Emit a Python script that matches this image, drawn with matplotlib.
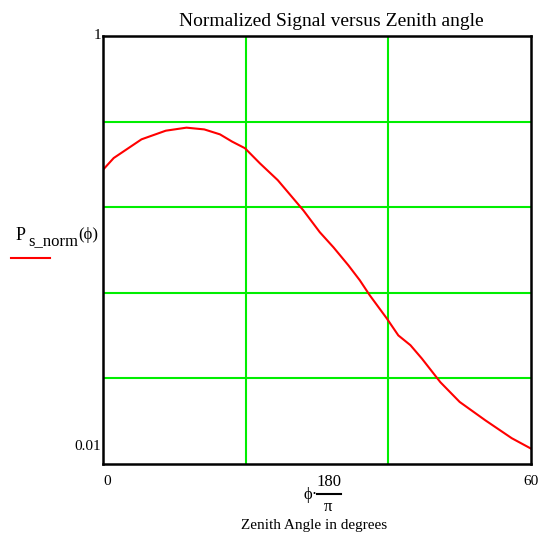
import numpy as np
import matplotlib.pyplot as plt

plt.rcParams['font.family'] = ['Liberation Serif', 'DejaVu Serif']

# zenith angle (deg) and normalized signal
angle = [0, 1.5, 5.4, 8.8, 11.7, 14.2, 16.4, 18.1, 19.9, 22.0, 24.5, 28.1, 30.4,
         32.3, 34.4, 36.0, 37.4, 39.8, 41.4, 43.1, 44.7, 47.3, 50.0, 53.6, 57.3, 60]
signal = [0.237, 0.269, 0.329, 0.361, 0.373, 0.366, 0.347, 0.321, 0.299, 0.254,
          0.212, 0.153, 0.121, 0.103, 0.0848, 0.0722, 0.0614, 0.0478, 0.0399,
          0.0359, 0.0311, 0.0241, 0.0195, 0.016, 0.0132, 0.0118]

x_grid = [20, 40]
y_grid = [10 ** -1.6, 10 ** -1.2, 10 ** -0.8, 10 ** -0.4]

W, H = 550, 535
fig = plt.figure(figsize=(5.5, 5.35), dpi=100)
ax = fig.add_axes([103 / W, 1 - 464 / H, (531 - 103) / W, (464 - 36) / H])

ax.plot(angle, signal, color='red', lw=1.5)
ax.set_yscale('log')
ax.set_xlim(0, 60)
ax.set_ylim(0.01, 1)

ax.set_xticks(x_grid)
ax.set_yticks(y_grid)
ax.minorticks_off()
ax.set_xticklabels([])
ax.set_yticklabels([])
ax.tick_params(length=0)
ax.grid(True, color='#00ee00', lw=1.5)
for s in ax.spines.values():
    s.set_linewidth(1.8)

# axis end labels
ax.text(-0.005, 1.0, '1', transform=ax.transAxes, ha='right', va='center', fontsize=11)
ax.text(-0.005, 0.04, '0.01', transform=ax.transAxes, ha='right', va='center', fontsize=11)
ax.text(0.0, -0.04, '0', transform=ax.transAxes, ha='left', va='center', fontsize=11)
ax.text(1.0, -0.04, '60', transform=ax.transAxes, ha='center', va='center', fontsize=11)

fig.text(331 / W, 1 - 21 / H, 'Normalized Signal versus Zenith angle',
         ha='center', va='center', fontsize=14)

# y label: P_s_norm(phi) with legend line
fig.text(16 / W, 1 - 236 / H, 'P', ha='left', va='center', fontsize=13)
fig.text(28 / W, 1 - 241 / H, 's_norm', ha='left', va='center', fontsize=12)
fig.text(78 / W, 1 - 235 / H, '(ϕ)', ha='left', va='center', fontsize=12)
fig.add_artist(plt.Line2D([11 / W, 50 / W], [1 - 258 / H, 1 - 258 / H], color='red', lw=1.5))

# x label: phi * 180 / pi
fig.text(311 / W, 1 - 495 / H, 'ϕ·', ha='center', va='center', fontsize=12)
fig.text(329 / W, 1 - 482 / H, '180', ha='center', va='center', fontsize=12)
fig.add_artist(plt.Line2D([317 / W, 341 / W], [1 - 494 / H, 1 - 494 / H], color='black', lw=1.5))
fig.text(328 / W, 1 - 507 / H, 'π', ha='center', va='center', fontsize=12)
fig.text(314 / W, 1 - 526 / H, 'Zenith Angle in degrees',
         ha='center', va='center', fontsize=11)

fig.savefig('out.png', dpi=100)
